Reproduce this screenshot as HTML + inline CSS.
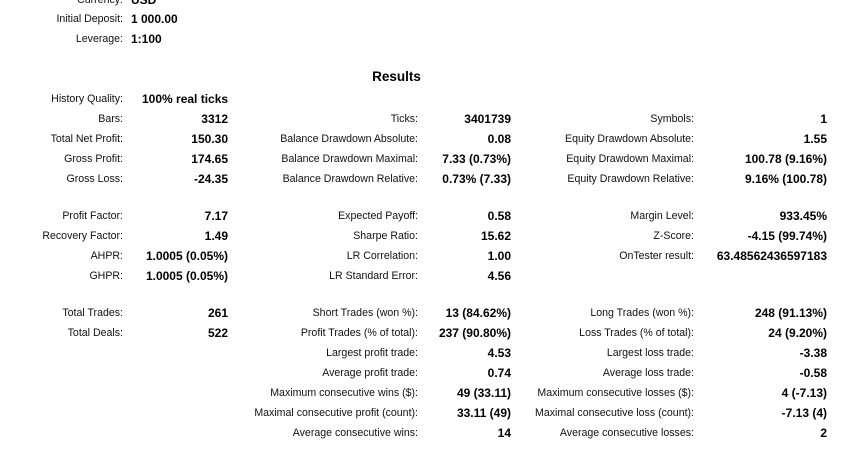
<!DOCTYPE html>
<html><head><meta charset="utf-8"><style>
body{margin:0;width:855px;height:453px;background:#fff;overflow:hidden;position:relative;font-family:"Liberation Sans",Arial,sans-serif;font-size:10.6px;color:#111}
.r{position:absolute;white-space:nowrap;line-height:14px}
b{font-weight:bold;font-size:12px;color:#000}
</style></head><body>
<div id="c"></div>
<script>
var rows=[
[-7,[[123,"Currency:"]],[[131,"USD",1,"l"]]],
[12,[[123,"Initial Deposit:"]],[[131,"1 000.00",1,"l"]]],
[32,[[123,"Leverage:"]],[[131,"1:100",1,"l"]]],
[92,[[123,"History Quality:"]],[[142,"100% real ticks",1,"l"]]],
[112,[[123,"Bars:"],[418,"Ticks:"],[694,"Symbols:"]],[[228,"3312",1],[511,"3401739",1],[827,"1",1]]],
[132,[[123,"Total Net Profit:"],[418,"Balance Drawdown Absolute:"],[694,"Equity Drawdown Absolute:"]],[[228,"150.30",1],[511,"0.08",1],[827,"1.55",1]]],
[152,[[123,"Gross Profit:"],[418,"Balance Drawdown Maximal:"],[694,"Equity Drawdown Maximal:"]],[[228,"174.65",1],[511,"7.33 (0.73%)",1],[827,"100.78 (9.16%)",1]]],
[172,[[123,"Gross Loss:"],[418,"Balance Drawdown Relative:"],[694,"Equity Drawdown Relative:"]],[[228,"-24.35",1],[511,"0.73% (7.33)",1],[827,"9.16% (100.78)",1]]],
[209,[[123,"Profit Factor:"],[418,"Expected Payoff:"],[694,"Margin Level:"]],[[228,"7.17",1],[511,"0.58",1],[827,"933.45%",1]]],
[229,[[123,"Recovery Factor:"],[418,"Sharpe Ratio:"],[694,"Z-Score:"]],[[228,"1.49",1],[511,"15.62",1],[827,"-4.15 (99.74%)",1]]],
[249,[[123,"AHPR:"],[418,"LR Correlation:"],[694,"OnTester result:"]],[[228,"1.0005 (0.05%)",1],[511,"1.00",1],[827,"63.48562436597183",1]]],
[269,[[123,"GHPR:"],[418,"LR Standard Error:"]],[[228,"1.0005 (0.05%)",1],[511,"4.56",1]]],
[306,[[123,"Total Trades:"],[418,"Short Trades (won %):"],[694,"Long Trades (won %):"]],[[228,"261",1],[511,"13 (84.62%)",1],[827,"248 (91.13%)",1]]],
[326,[[123,"Total Deals:"],[418,"Profit Trades (% of total):"],[694,"Loss Trades (% of total):"]],[[228,"522",1],[511,"237 (90.80%)",1],[827,"24 (9.20%)",1]]],
[346,[[418,"Largest profit trade:"],[694,"Largest loss trade:"]],[[511,"4.53",1],[827,"-3.38",1]]],
[366,[[418,"Average profit trade:"],[694,"Average loss trade:"]],[[511,"0.74",1],[827,"-0.58",1]]],
[386,[[418,"Maximum consecutive wins ($):"],[694,"Maximum consecutive losses ($):"]],[[511,"49 (33.11)",1],[827,"4 (-7.13)",1]]],
[406,[[418,"Maximal consecutive profit (count):"],[694,"Maximal consecutive loss (count):"]],[[511,"33.11 (49)",1],[827,"-7.13 (4)",1]]],
[426,[[418,"Average consecutive wins:"],[694,"Average consecutive losses:"]],[[511,"14",1],[827,"2",1]]]
];
var h="";
rows.forEach(function(r){
 var t=r[0];
 r[1].concat(r[2]).forEach(function(c){
  var txt=c[2]?"<b>"+c[1]+"</b>":c[1];
  if(c[3]=="l") h+='<div class="r" style="top:'+t+'px;left:'+c[0]+'px">'+txt+'</div>';
  else h+='<div class="r" style="top:'+t+'px;right:'+(855-c[0])+'px">'+txt+'</div>';
 });
});
h+='<div class="r" style="top:69px;left:0;width:793px;text-align:center;line-height:16px"><b style="font-size:13.5px">Results</b></div>';
document.getElementById("c").innerHTML=h;
</script>
</body></html>
